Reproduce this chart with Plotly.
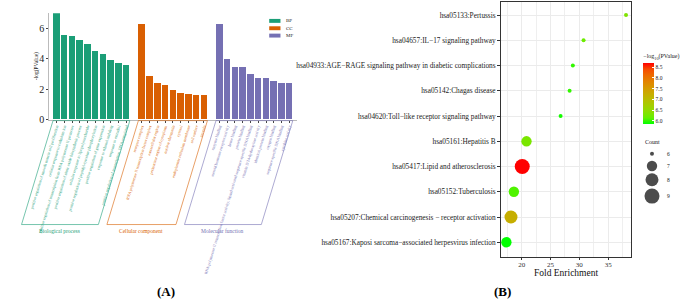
import plotly.graph_objects as go
import math

W, H = 685, 308
SERIF = "Liberation Serif"

# ---------------- Panel A : GO enrichment ----------------
go_group_codes = ["BP", "CC", "MF"]
go_group_names = ["Biological process", "Cellular component", "Molecular function"]
go_colors = ["#1B9E77", "#D95F02", "#7570B3"]

bp_terms = [
    "positive regulation of smooth muscle cell proliferation",
    "cellular response to cadmium ion",
    "positive regulation of transcription from RNA polymerase II promoter",
    "positive regulation of nitric oxide biosynthetic process",
    "cellular response to lipopolysaccharide",
    "positive regulation of peptidyl-tyrosine phosphorylation",
    "positive regulation of gene expression",
    "response to ethanol and drug",
    "response to estradiol",
    "positive regulation of transcription, DNA-templated",
]
bp_values = [6.97, 5.55, 5.46, 5.25, 4.97, 4.50, 4.30, 3.91, 3.68, 3.55]

cc_terms = [
    "receptor complex",
    "RNA polymerase II transcription factor complex",
    "extracellular region",
    "perinuclear region of cytoplasm",
    "nuclear chromatin",
    "cytosol",
    "endoplasmic reticulum membrane",
    "cell surface",
    "caveola",
]
cc_values = [6.28, 2.84, 2.37, 2.26, 1.94, 1.76, 1.66, 1.59, 1.59]

mf_terms = [
    "enzyme binding",
    "steroid hormone receptor activity",
    "heme binding",
    "protein binding",
    "RNA polymerase II transcription factor activity, ligand-activated sequence-specific DNA binding",
    "vitamin D 24-hydroxylase activity",
    "identical protein binding",
    "oxygen binding",
    "sequence-specific DNA binding",
    "cytokine activity",
]
mf_values = [6.28, 3.98, 3.48, 3.48, 2.99, 2.75, 2.71, 2.54, 2.39, 2.37]

go_yticks = [0, 2, 4, 6]

# ---------------- Panel B : KEGG bubble ----------------
kegg_terms = [  # top to bottom
    "hsa05133:Pertussis",
    "hsa04657:IL−17 signaling pathway",
    "hsa04933:AGE−RAGE signaling pathway in diabetic complications",
    "hsa05142:Chagas disease",
    "hsa04620:Toll−like receptor signaling pathway",
    "hsa05161:Hepatitis B",
    "hsa05417:Lipid and atherosclerosis",
    "hsa05152:Tuberculosis",
    "hsa05207:Chemical carcinogenesis − receptor activation",
    "hsa05167:Kaposi sarcoma−associated herpesvirus infection",
]
kegg_fold = [38.09, 30.73, 28.87, 28.31, 26.75, 20.84, 20.10, 18.65, 18.15, 17.35]
kegg_logp = [6.35, 6.20, 6.00, 6.00, 5.92, 6.30, 8.68, 6.08, 7.22, 5.86]
kegg_count = [6, 6, 6, 6, 6, 7, 9, 7, 8, 7]
count_levels = [6, 7, 8, 9]
logp_ticks = [6.0, 6.5, 7.0, 7.5, 8.0, 8.5]
fold_ticks = [20, 25, 30, 35]


# ---------------- helpers ----------------
def pxx(p):
    return p / W


def pxy(p):
    return 1 - p / H


def _lin(c):
    return c / 12.92 if c <= 0.04045 else ((c + 0.055) / 1.055) ** 2.4


def _delin(c):
    c = max(0.0, min(1.0, c))
    return 12.92 * c if c <= 0.0031308 else 1.055 * c ** (1 / 2.4) - 0.055


def hex_to_lab(h):
    r, g, b = [_lin(int(h[i:i + 2], 16) / 255) for i in (1, 3, 5)]
    X = (0.4124 * r + 0.3576 * g + 0.1805 * b) / 0.95047
    Y = 0.2126 * r + 0.7152 * g + 0.0722 * b
    Z = (0.0193 * r + 0.1192 * g + 0.9505 * b) / 1.08883
    f = lambda t: t ** (1 / 3) if t > 0.008856 else 7.787 * t + 16 / 116
    fx, fy, fz = f(X), f(Y), f(Z)
    return (116 * fy - 16, 500 * (fx - fy), 200 * (fy - fz))


def lab_to_hex(lab):
    L, a, b = lab
    fy = (L + 16) / 116
    fx = fy + a / 500
    fz = fy - b / 200
    finv = lambda t: t ** 3 if t ** 3 > 0.008856 else (t - 16 / 116) / 7.787
    X = finv(fx) * 0.95047
    Y = finv(fy)
    Z = finv(fz) * 1.08883
    r = 3.2406 * X - 1.5372 * Y - 0.4986 * Z
    g = -0.9689 * X + 1.8758 * Y + 0.0415 * Z
    bb = 0.0557 * X - 0.2040 * Y + 1.0570 * Z
    return "#%02x%02x%02x" % tuple(round(_delin(c) * 255) for c in (r, g, bb))


lo, hi = hex_to_lab("#00FF00"), hex_to_lab("#FF0000")
colorscale = []
for k in range(11):
    t = k / 10
    colorscale.append([t, lab_to_hex(tuple(lo[j] + (hi[j] - lo[j]) * t for j in range(3)))])


def size_of(c):
    return 4 + 11 * math.sqrt((c - 6) / 3)


fig = go.Figure()

# ---------------- Panel A traces ----------------
groups = [(bp_terms, bp_values), (cc_terms, cc_values), (mf_terms, mf_values)]
all_pos, all_text, group_span = [], [], []
start = 0
for gi, (terms, vals) in enumerate(groups):
    xs = list(range(start, start + len(vals)))
    fig.add_trace(go.Bar(
        x=xs, y=vals, width=0.84, marker=dict(color=go_colors[gi], line=dict(width=0)),
        name=go_group_codes[gi], showlegend=False, xaxis="x", yaxis="y",
    ))
    all_pos += xs
    all_text += ['<span style="color:%s">%s</span>' % (go_colors[gi], t) for t in terms]
    group_span.append((xs[0], xs[-1]))
    start += len(vals) + 1

A_X0, A_X1 = 30, 285
A_R0, A_R1 = -0.95, start - 1 - 0.05
A_Y0, A_Y1 = 122, 13.5
A_YMAX = (A_Y0 - A_Y1) / 15.5


def a_px(i):
    return A_X0 + (i - A_R0) / (A_R1 - A_R0) * (A_X1 - A_X0)


# ---------------- Panel B trace ----------------
fig.add_trace(go.Scatter(
    x=kegg_fold, y=kegg_terms, mode="markers", xaxis="x2", yaxis="y2", showlegend=False,
    marker=dict(
        size=[size_of(c) for c in kegg_count], color=kegg_logp, colorscale=colorscale,
        cmin=min(kegg_logp), cmax=max(kegg_logp), line=dict(width=0), opacity=1,
        colorbar=dict(
            x=pxx(642), xanchor="left", xpad=0, y=pxy(52), yanchor="top", ypad=0,
            thickness=11, len=73, lenmode="pixels", outlinewidth=0,
            tickvals=logp_ticks, ticktext=["%.1f" % v for v in logp_ticks],
            ticks="inside", ticklen=2, tickcolor="white",
            tickfont=dict(family=SERIF, size=5.5, color="#222"),
            title=dict(text="−log<sub>10</sub>(PValue)", side="top",
                       font=dict(family=SERIF, size=6, color="#222")),
        ),
    ),
))

# size legend (hidden pixel axis)
size_leg_y = [156.7, 169.3, 183.3, 200.0]
fig.add_trace(go.Scatter(
    x=[651] * len(count_levels), y=size_leg_y, mode="markers", xaxis="x3", yaxis="y3",
    showlegend=False, hoverinfo="skip",
    marker=dict(size=[size_of(c) for c in count_levels], color="black", line=dict(width=0)),
))

shapes, annotations = [], []

# GO legend
for gi, code in enumerate(go_group_codes):
    yc = 21.3 + gi * 7.5
    shapes.append(dict(type="rect", xref="x3", yref="y3", x0=256.7, x1=268.3, y0=yc - 2, y1=yc + 2,
                       fillcolor=go_colors[gi], line=dict(width=0)))
    annotations.append(dict(xref="x3", yref="y3", x=271.5, y=yc, text=code, showarrow=False,
                            xanchor="left", yanchor="middle", font=dict(family=SERIF, size=5, color="#222")))

# group parallelograms
top, bot = 123, 229
skew = (bot - top) / math.tan(math.radians(73))
for gi, (i0, i1) in enumerate(group_span):
    xl, xr = a_px(i0 - 0.45), a_px(i1 + 0.45)
    path = "M %f,%f L %f,%f L %f,%f L %f,%f Z" % (xl, top, xr, top, xr - skew, bot, xl - skew, bot)
    shapes.append(dict(type="path", xref="x3", yref="y3", path=path,
                       line=dict(color=go_colors[gi], width=0.6), fillcolor="rgba(0,0,0,0)"))
    annotations.append(dict(xref="x3", yref="y3", x=(xl + xr) / 2 - skew, y=bot + 1, text=go_group_names[gi],
                            showarrow=False, xanchor="center", yanchor="top",
                            font=dict(family=SERIF, size=5.5, color=go_colors[gi])))

# size legend labels and title
for c, yy in zip(count_levels, size_leg_y):
    annotations.append(dict(xref="x3", yref="y3", x=664, y=yy, text=str(c), showarrow=False,
                            xanchor="left", yanchor="middle", font=dict(family=SERIF, size=5.5, color="#222")))
annotations.append(dict(xref="x3", yref="y3", x=642, y=145, text="Count", showarrow=False,
                        xanchor="left", yanchor="middle", font=dict(family=SERIF, size=6, color="#222")))

# axis titles and panel tags
annotations.append(dict(xref="x3", yref="y3", x=17, y=68, text="-log(PValue)", textangle=-90, showarrow=False,
                        xanchor="center", yanchor="middle", font=dict(family=SERIF, size=5.5, color="#222")))
annotations.append(dict(xref="x3", yref="y3", x=562, y=278, text="Fold Enrichment", showarrow=False,
                        xanchor="center", yanchor="middle", font=dict(family=SERIF, size=9.5, color="#111")))
annotations.append(dict(xref="x3", yref="y3", x=150, y=297, text="<b>(A)</b>", showarrow=False,
                        xanchor="center", yanchor="middle", font=dict(family=SERIF, size=13, color="#000")))
annotations.append(dict(xref="x3", yref="y3", x=497, y=297, text="<b>(B)</b>", showarrow=False,
                        xanchor="center", yanchor="middle", font=dict(family=SERIF, size=13, color="#000")))

fig.update_layout(
    width=W, height=H, autosize=False,
    margin=dict(l=0, r=0, t=0, b=0, pad=0),
    paper_bgcolor="white", plot_bgcolor="rgba(0,0,0,0)",
    showlegend=False, bargap=0,
    shapes=shapes, annotations=annotations,
    xaxis=dict(
        domain=[pxx(A_X0), pxx(A_X1)], range=[A_R0, A_R1], anchor="y",
        tickmode="array", tickvals=all_pos, ticktext=all_text, tickangle=-73,
        tickfont=dict(family=SERIF, size=4), ticks="outside", ticklen=2, tickcolor="#444", tickwidth=0.6,
        showline=True, linecolor="#bbbbbb", linewidth=0.8, showgrid=False, zeroline=False,
    ),
    yaxis=dict(
        domain=[pxy(A_Y0), pxy(A_Y1)], range=[0, A_YMAX], anchor="x",
        tickmode="array", tickvals=go_yticks, tickfont=dict(family=SERIF, size=10, color="#222"),
        ticks="outside", ticklen=2, tickcolor="#444", tickwidth=0.6,
        showline=True, linecolor="#bbbbbb", linewidth=0.8, showgrid=False, zeroline=False,
    ),
    xaxis2=dict(
        domain=[pxx(495), pxx(629)], range=[16.34, 38.89], anchor="y2",
        tickmode="array", tickvals=fold_ticks, tickfont=dict(family=SERIF, size=7, color="#333"),
        ticks="outside", ticklen=2.5, tickcolor="#333", tickwidth=0.6, ticklabelstandoff=-2,
        showline=True, mirror=True, linecolor="#333333", linewidth=1,
        showgrid=True, gridcolor="#EBEBEB", gridwidth=1, zeroline=False,
        minor=dict(showgrid=True, dtick=2.5, tick0=0, gridcolor="#EFEFEF", gridwidth=0.6, ticks=""),
    ),
    yaxis2=dict(
        domain=[pxy(262), pxy(2)], type="category", categoryorder="array",
        categoryarray=list(reversed(kegg_terms)), range=[-0.58, 9.52], anchor="x2",
        tickfont=dict(family=SERIF, size=7.3, color="#222"),
        ticks="outside", ticklen=2.5, tickcolor="#333", tickwidth=0.6,
        showline=True, mirror=True, linecolor="#333333", linewidth=1,
        showgrid=True, gridcolor="#EBEBEB", gridwidth=1, zeroline=False,
    ),
    xaxis3=dict(domain=[0, 1], range=[0, W], anchor="y3", visible=False, fixedrange=True),
    yaxis3=dict(domain=[0, 1], range=[H, 0], anchor="x3", visible=False, fixedrange=True),
)

fig.write_html("out.html", config={"displayModeBar": False},
               post_script="document.body.style.margin='0';document.body.style.overflow='hidden';")
